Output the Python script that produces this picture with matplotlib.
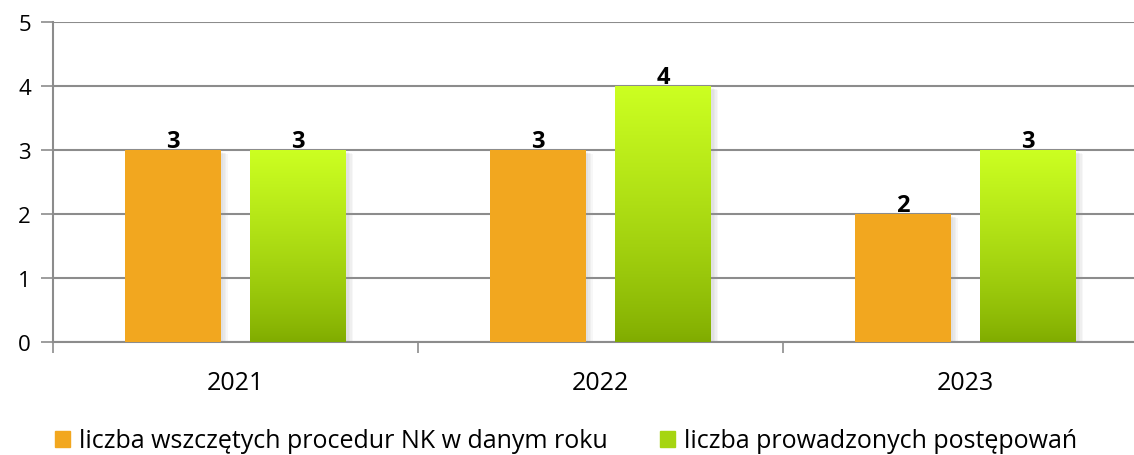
import numpy as np
import matplotlib
matplotlib.use("Agg")
import matplotlib.pyplot as plt
import matplotlib.patheffects as pe
from matplotlib.patches import Patch

plt.rcParams['font.family'] = ['Open Sans', 'DejaVu Sans']

# dane
lata = ['2021', '2022', '2023']
wszczete = [3, 3, 2]
prowadzone = [3, 4, 3]
etykiety = ['liczba wszczętych procedur NK w danym roku', 'liczba prowadzonych postępowań']

kolor_pom = '#F2A71F'
ziel_gora = np.array([0.80, 1.00, 0.13])
ziel_dol = np.array([0.50, 0.67, 0.00])
szary = '#8C8C8C'

fig = plt.figure(figsize=(11.34, 4.56), dpi=100)
ax = fig.add_axes([53 / 1134, 113 / 456, 1095 / 1134, 320 / 456])

x = np.arange(len(lata))
w = 0.263
off = 0.172

# miękki cień z kilku warstw
cien = [pe.SimplePatchShadow(offset=(d, -d * 0.6), shadow_rgbFace='#999999', alpha=0.08)
        for d in (5, 4, 3, 2)] + [pe.Normal()]

b1 = ax.bar(x - off, wszczete, w, color=kolor_pom, zorder=3, path_effects=cien)
b2 = ax.bar(x + off, prowadzone, w, color=ziel_dol, zorder=3, path_effects=cien)

# gradient na zielonych słupkach
grad = np.linspace(0, 1, 256)[:, None, None] ** 0.8
obraz = ziel_dol + (ziel_gora - ziel_dol) * grad
obraz = np.repeat(obraz, 2, axis=1)
for p in b2:
    x0, y0 = p.get_x(), p.get_y()
    im = ax.imshow(obraz, extent=[x0, x0 + p.get_width(), y0, y0 + p.get_height()],
                   origin='lower', aspect='auto', zorder=4, interpolation='bilinear')
    im.set_clip_path(p)

for bars, vals in ((b1, wszczete), (b2, prowadzone)):
    for p, v in zip(bars, vals):
        ax.text(p.get_x() + p.get_width() / 2, v - 0.04, str(v), ha='center', va='bottom',
                fontsize=17, fontweight='bold', color='black', zorder=5)

ax.set_xlim(-0.5, 2.5)
ax.set_ylim(0, 5)
ax.set_yticks(range(6))
ax.yaxis.grid(True, color=szary, linewidth=1.5, zorder=0)
ax.set_axisbelow(True)

ax.set_xticks([-0.5, 0.5, 1.5], minor=False)
ax.set_xticklabels([])
ax.set_xticks(x, minor=True)
ax.set_xticklabels(lata, minor=True)
ax.tick_params(axis='x', which='major', length=8, color=szary, width=1.2)
ax.tick_params(axis='x', which='minor', length=0, labelsize=18, pad=20)
ax.tick_params(axis='y', length=9, color=szary, width=1.2, labelsize=16, pad=7)

for s in ('top', 'right'):
    ax.spines[s].set_visible(False)
ax.spines['left'].set_color(szary)
ax.spines['left'].set_linewidth(1.5)
ax.spines['bottom'].set_color(szary)
ax.spines['bottom'].set_linewidth(1.5)

uchwyty = [Patch(color=kolor_pom), Patch(color=(ziel_gora + ziel_dol) / 2)]
fig.legend(uchwyty, etykiety, loc='lower left', bbox_to_anchor=(0.029, -0.046), ncol=2,
           frameon=False, fontsize=18, handlelength=0.6, handleheight=0.6,
           handletextpad=0.35, columnspacing=2.1)

fig.savefig('out.png', dpi=100)
